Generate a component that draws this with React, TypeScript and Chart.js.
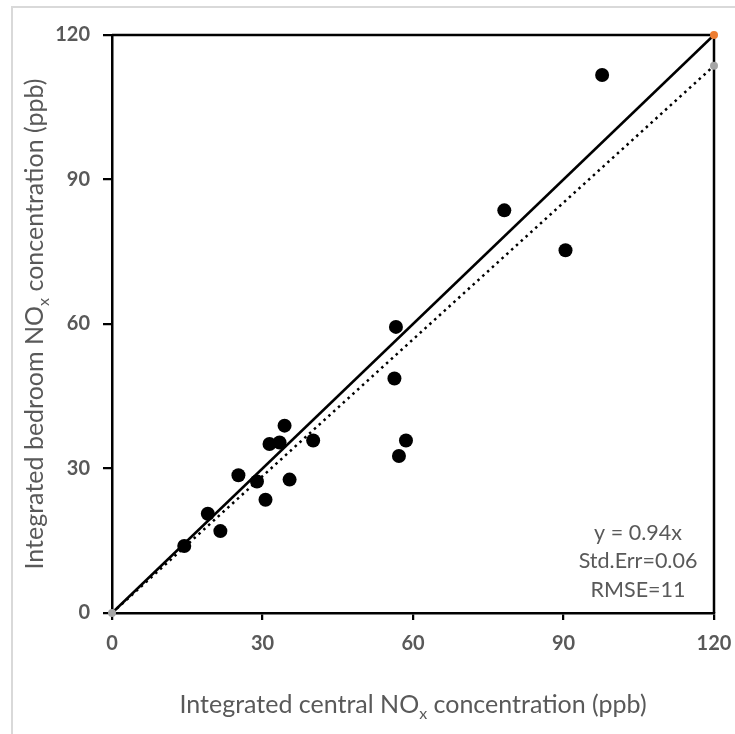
import React, { useEffect, useRef } from "react";
import { Chart, registerables } from "chart.js";

Chart.register(...registerables);

const centralNOx = [14.4, 19.1, 21.6, 25.2, 28.9, 30.6, 31.4, 33.4, 34.4, 35.4, 40.1, 56.6, 56.3, 57.2, 58.6, 78.2, 90.4, 97.7];
const bedroomNOx = [13.9, 20.6, 17.0, 28.6, 27.3, 23.5, 35.1, 35.4, 38.9, 27.7, 35.8, 59.4, 48.7, 32.6, 35.8, 83.6, 75.3, 111.7];
const oneToOneX = [0, 120];
const oneToOneY = [0, 120];
const fitX = [0, 120];
const fitY = [0, 113.6];
const tickValues = [0, 30, 60, 90, 120];
const annotationLines = ["y = 0.94x", "Std.Err=0.06", "RMSE=11"];

const FONT = "Lato, 'Open Sans', sans-serif";
const GREY = "#595959";

function drawSubTitle(ctx: CanvasRenderingContext2D, pre: string, sub: string, post: string, size: number) {
  const main = `${size}px ${FONT}`;
  const small = `${Math.round(size * 0.65)}px ${FONT}`;
  ctx.font = main;
  const w1 = ctx.measureText(pre).width;
  const w3 = ctx.measureText(post).width;
  ctx.font = small;
  const w2 = ctx.measureText(sub).width;
  const total = w1 + w2 + w3;
  let x = -total / 2;
  ctx.textBaseline = "alphabetic";
  ctx.textAlign = "left";
  ctx.font = main;
  ctx.fillText(pre, x, 0);
  x += w1;
  ctx.font = small;
  ctx.fillText(sub, x, size * 0.22);
  x += w2;
  ctx.font = main;
  ctx.fillText(post, x, 0);
}

const decorPlugin = {
  id: "decor",
  beforeDraw(chart: any) {
    const ctx = chart.ctx as CanvasRenderingContext2D;
    ctx.save();
    ctx.fillStyle = "#ffffff";
    ctx.fillRect(0, 0, chart.width, chart.height);
    ctx.strokeStyle = "#d9d9d9";
    ctx.lineWidth = 2;
    ctx.strokeRect(12, 7, chart.width + 20, chart.height + 20);
    ctx.restore();
  },
  beforeDatasetsDraw(chart: any) {
    const ctx = chart.ctx as CanvasRenderingContext2D;
    const a = chart.chartArea;
    ctx.save();
    ctx.strokeStyle = "#000000";
    ctx.lineWidth = 2.5;
    ctx.beginPath();
    ctx.moveTo(a.left, a.top);
    ctx.lineTo(a.right, a.top);
    ctx.lineTo(a.right, a.bottom);
    ctx.stroke();
    ctx.restore();
  },
  afterDraw(chart: any) {
    const ctx = chart.ctx as CanvasRenderingContext2D;
    const a = chart.chartArea;
    ctx.save();
    ctx.fillStyle = GREY;
    ctx.save();
    ctx.translate((a.left + a.right) / 2, 713);
    drawSubTitle(ctx, "Integrated central NO", "x", " concentration (ppb)", 25);
    ctx.restore();
    ctx.save();
    ctx.translate(43, (a.top + a.bottom) / 2);
    ctx.rotate(-Math.PI / 2);
    drawSubTitle(ctx, "Integrated bedroom NO", "x", " concentration (ppb)", 25);
    ctx.restore();
    ctx.font = `21.5px ${FONT}`;
    ctx.textAlign = "center";
    ctx.textBaseline = "middle";
    annotationLines.forEach((t, i) => {
      ctx.fillText(t, 638, 533 + i * 28.5);
    });
    ctx.restore();
  },
};

export default function App() {
  const ref = useRef<HTMLCanvasElement | null>(null);
  useEffect(() => {
    if (!ref.current) return;
    const chart = new Chart(ref.current, {
      type: "scatter",
      data: {
        datasets: [
          {
            label: "1:1",
            data: oneToOneX.map((x, i) => ({ x, y: oneToOneY[i] })),
            showLine: true,
            borderColor: "#000000",
            borderWidth: 2.5,
            pointRadius: [0, 4],
            pointBackgroundColor: "#ed7d31",
            pointBorderWidth: 0,
            clip: false,
            order: 3,
          } as any,
          {
            label: "fit",
            data: fitX.map((x, i) => ({ x, y: fitY[i] })),
            showLine: true,
            borderColor: "#000000",
            borderWidth: 2.5,
            borderDash: [2.5, 4],
            pointRadius: 4,
            pointBackgroundColor: "#a5a5a5",
            pointBorderWidth: 0,
            clip: false,
            order: 2,
          } as any,
          {
            label: "data",
            data: centralNOx.map((x, i) => ({ x, y: bedroomNOx[i] })),
            pointRadius: 7,
            pointBackgroundColor: "#000000",
            pointBorderWidth: 0,
            clip: false,
            order: 1,
          } as any,
        ],
      },
      options: {
        animation: false,
        responsive: false,
        maintainAspectRatio: false,
        layout: { padding: { left: 0, top: 35, right: 21, bottom: 0 } },
        plugins: { legend: { display: false }, tooltip: { enabled: false } },
        scales: {
          x: {
            type: "linear",
            min: 0,
            max: 120,
            afterFit: (s: any) => { s.height = 121; s.paddingLeft = 0; s.paddingRight = 0; },
            afterBuildTicks: (s: any) => { s.ticks = tickValues.map((v) => ({ value: v })); },
            ticks: { color: GREY, padding: 12, font: { family: FONT, size: 20, weight: "bold" } },
            grid: { drawOnChartArea: false, drawTicks: true, tickLength: 7, color: "#000000", lineWidth: 2.25 },
            border: { display: true, color: "#000000", width: 2.5 },
          },
          y: {
            type: "linear",
            min: 0,
            max: 120,
            afterFit: (s: any) => { s.width = 112; s.paddingTop = 0; s.paddingBottom = 0; },
            afterBuildTicks: (s: any) => { s.ticks = tickValues.map((v) => ({ value: v })); },
            ticks: { color: GREY, padding: 13, font: { family: FONT, size: 20, weight: "bold" } },
            grid: { drawOnChartArea: false, drawTicks: true, tickLength: 9, color: "#000000", lineWidth: 2.25 },
            border: { display: true, color: "#000000", width: 2.5 },
          },
        },
      } as any,
      plugins: [decorPlugin],
    });
    return () => chart.destroy();
  }, []);
  return (
    <div style={{ position: "fixed", left: 0, top: 0, width: 735, height: 734 }}>
      <canvas ref={ref} width={735} height={734} style={{ width: 735, height: 734, display: "block" }} />
    </div>
  );
}
